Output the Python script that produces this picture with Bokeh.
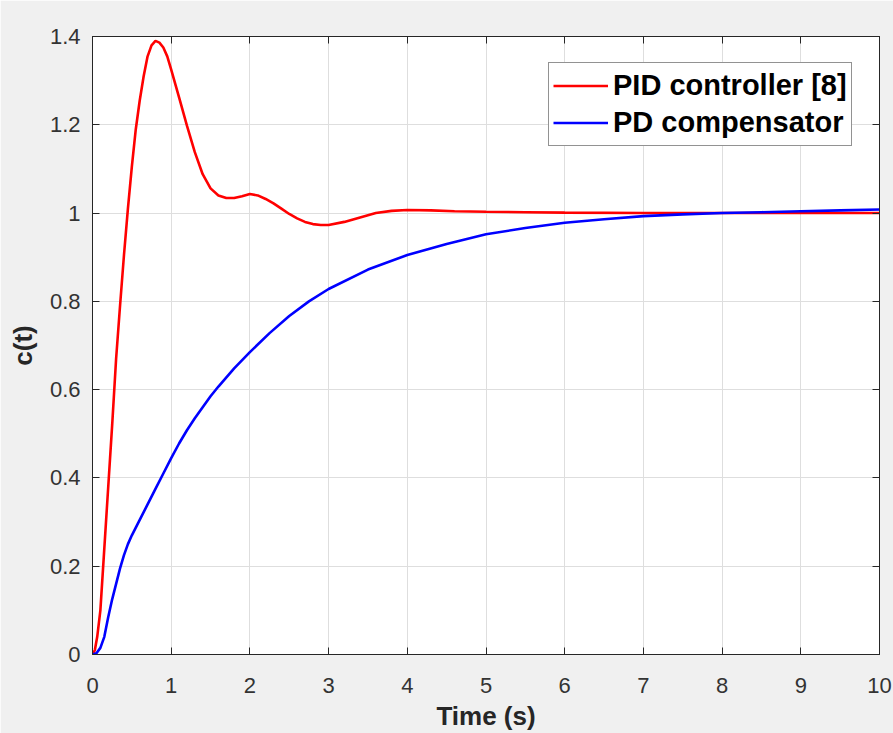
from bokeh.plotting import figure
from bokeh.models import LinearAxis, FixedTicker, CustomJSTickFormatter, Legend, LegendItem, Range1d
from bokeh.embed import file_html
from bokeh.resources import INLINE

# ---- data ----
x_ticks = [0, 1, 2, 3, 4, 5, 6, 7, 8, 9, 10]
y_ticks = [0, 0.2, 0.4, 0.6, 0.8, 1.0, 1.2, 1.4]

pid_t = [0, 0.03, 0.06, 0.10, 0.15, 0.20, 0.25, 0.30, 0.35, 0.40, 0.45, 0.50, 0.55, 0.60, 0.65,
         0.70, 0.75, 0.80, 0.85, 0.90, 0.95, 1.0, 1.1, 1.2, 1.3, 1.4, 1.5, 1.6, 1.7, 1.8, 1.9,
         2.0, 2.1, 2.2, 2.3, 2.4, 2.5, 2.6, 2.7, 2.8, 2.9, 3.0, 3.2, 3.4, 3.6, 3.8, 4.0, 4.3,
         4.6, 5.0, 5.5, 6.0, 7.0, 8.0, 9.0, 10.0]
pid_c = [0, 0.01, 0.04, 0.10, 0.24, 0.38, 0.52, 0.67, 0.79, 0.905, 1.01, 1.105, 1.19, 1.255, 1.31,
         1.355, 1.38, 1.39, 1.386, 1.375, 1.355, 1.325, 1.262, 1.198, 1.138, 1.088, 1.056, 1.04, 1.034, 1.034, 1.038,
         1.043, 1.04, 1.032, 1.022, 1.01, 0.998, 0.988, 0.98, 0.975, 0.973, 0.973, 0.98, 0.99, 1.0, 1.005, 1.007, 1.006,
         1.004, 1.003, 1.002, 1.001, 1.0, 1.0, 1.0, 1.0]

pd_t = [0, 0.05, 0.10, 0.15, 0.20, 0.25, 0.30, 0.35, 0.40, 0.45, 0.50, 0.6, 0.7, 0.8, 0.9, 1.0,
        1.1, 1.2, 1.3, 1.4, 1.5, 1.6, 1.8, 2.0, 2.25, 2.5, 2.75, 3.0, 3.5, 4.0, 4.5, 5.0, 5.5,
        6.0, 6.5, 7.0, 7.5, 8.0, 8.5, 9.0, 9.5, 10.0]
pd_c = [0, 0.003, 0.015, 0.04, 0.085, 0.125, 0.16, 0.195, 0.225, 0.25, 0.27, 0.305, 0.34, 0.375, 0.41, 0.445,
        0.478, 0.508, 0.535, 0.56, 0.585, 0.607, 0.648, 0.685, 0.728, 0.767, 0.80, 0.828, 0.872, 0.905, 0.93, 0.952, 0.966,
        0.978, 0.986, 0.993, 0.997, 1.0, 1.002, 1.004, 1.006, 1.008]

series_labels = ["PID controller [8]", "PD compensator"]

FONT = "Liberation Sans"
DARK = "#262626"

p = figure(width=893, height=733, output_backend="svg", toolbar_location=None,
           x_range=Range1d(0, 10), y_range=Range1d(0, 1.4),
           min_border_left=92, min_border_right=14, min_border_top=36, min_border_bottom=76,
           background_fill_color="white", border_fill_color="#f0f0f0")
p.outline_line_color = DARK
p.outline_line_width = 1

fmt = CustomJSTickFormatter(code="return String(Math.round(tick*10)/10);")
blank = CustomJSTickFormatter(code="return '';")

for ax in [p.xaxis[0], p.yaxis[0]]:
    ax.major_label_text_font = FONT
    ax.major_label_text_font_size = "22px"
    ax.major_label_text_color = "#333333"
    ax.axis_line_color = DARK
    ax.major_tick_line_color = DARK
    ax.major_tick_in = 7
    ax.major_tick_out = 0
    ax.minor_tick_line_color = None
    ax.axis_label_text_font = FONT
    ax.axis_label_text_font_size = "26px"
    ax.axis_label_text_font_style = "bold"
    ax.axis_label_text_color = DARK

p.xaxis[0].ticker = FixedTicker(ticks=x_ticks)
p.yaxis[0].ticker = FixedTicker(ticks=y_ticks)
p.xaxis[0].formatter = fmt
p.yaxis[0].formatter = fmt
p.xaxis[0].axis_label = "Time (s)"
p.yaxis[0].axis_label = "c(t)"
p.xaxis[0].major_label_standoff = 23
p.yaxis[0].major_label_standoff = 12
p.xaxis[0].axis_label_standoff = 5
p.yaxis[0].axis_label_standoff = 9

for loc, ticks in [("above", x_ticks), ("right", y_ticks)]:
    ax = LinearAxis(ticker=FixedTicker(ticks=ticks), formatter=blank)
    ax.major_label_standoff = 0
    ax.axis_line_color = DARK
    ax.major_tick_line_color = DARK
    ax.major_tick_in = 7
    ax.major_tick_out = 0
    ax.minor_tick_line_color = None
    p.add_layout(ax, loc)

p.xgrid.ticker = FixedTicker(ticks=x_ticks)
p.ygrid.ticker = FixedTicker(ticks=y_ticks)
p.grid.grid_line_color = "#dedede"
p.grid.grid_line_width = 1

r1 = p.line(pid_t, pid_c, line_color="#ff0000", line_width=2.6)
r2 = p.line(pd_t, pd_c, line_color="#0000ff", line_width=2.6)

legend = Legend(items=[LegendItem(label=series_labels[0], renderers=[r1]),
                       LegendItem(label=series_labels[1], renderers=[r2])],
                location=(456, 508))
legend.label_text_font = FONT
legend.label_text_font_size = "29px"
legend.label_text_font_style = "bold"
legend.label_text_color = "black"
legend.label_height = 37
legend.glyph_height = 37
legend.glyph_width = 55
legend.label_standoff = 5
legend.padding = 4
legend.spacing = 0
legend.margin = 0
legend.border_line_color = DARK
legend.border_line_width = 1
legend.background_fill_color = "white"
legend.background_fill_alpha = 1
p.add_layout(legend, "center")

open("out.html", "w").write(file_html(p, INLINE))
